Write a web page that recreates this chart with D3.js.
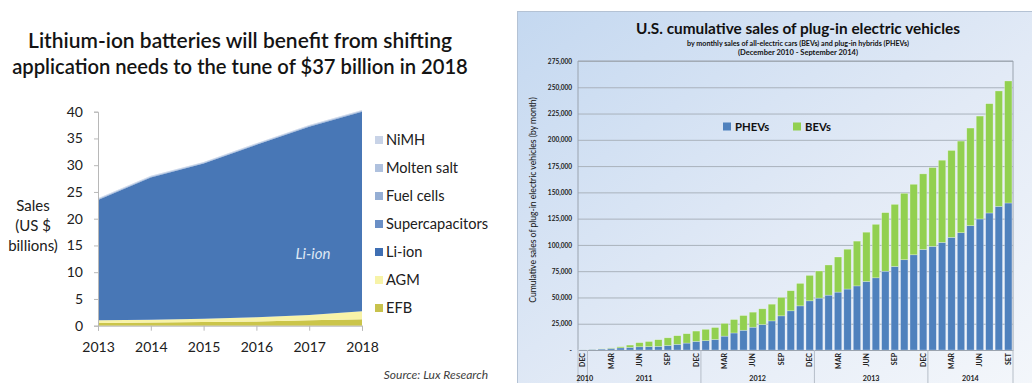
<!DOCTYPE html>
<html>
<head>
<meta charset="utf-8">
<script src="https://cdn.jsdelivr.net/npm/d3@7"></script>
<style>
  html, body { margin: 0; padding: 0; background: #ffffff; }
  svg { display: block; }
</style>
</head>
<body>
<svg id="chart" width="1032" height="383"></svg>
<script>
// ---------- Battery market (US $ billions) ----------
const batteryYears = [2013, 2014, 2015, 2016, 2017, 2018];
const efb        = [0.5, 0.6, 0.7, 0.8, 1.0, 1.2];
const agm        = [0.5, 0.5, 0.6, 0.8, 1.0, 1.5];
const liIon      = [22.5, 26.6, 29.0, 32.2, 35.2, 37.3];
const supercaps  = [0.08, 0.08, 0.08, 0.08, 0.08, 0.08];
const fuelCells  = [0.08, 0.08, 0.08, 0.08, 0.08, 0.08];
const moltenSalt = [0.08, 0.08, 0.08, 0.08, 0.08, 0.08];
const nimh       = [0.08, 0.08, 0.08, 0.08, 0.08, 0.08];
const batteryTicks = [0, 5, 10, 15, 20, 25, 30, 35, 40];
const batteryLegend = ["NiMH", "Molten salt", "Fuel cells", "Supercapacitors", "Li-ion", "AGM", "EFB"];

// ---------- US plug-in electric vehicles, cumulative ----------
const months = [
  "2010-12",
  "2011-01","2011-02","2011-03","2011-04","2011-05","2011-06","2011-07","2011-08","2011-09","2011-10","2011-11","2011-12",
  "2012-01","2012-02","2012-03","2012-04","2012-05","2012-06","2012-07","2012-08","2012-09","2012-10","2012-11","2012-12",
  "2013-01","2013-02","2013-03","2013-04","2013-05","2013-06","2013-07","2013-08","2013-09","2013-10","2013-11","2013-12",
  "2014-01","2014-02","2014-03","2014-04","2014-05","2014-06","2014-07","2014-08","2014-09"
];
const phevs = [
  326,
  650, 930, 1540, 2030, 2510, 3070, 3200, 3500, 4250, 5400, 6600, 8200,
  8900, 10000, 13200, 16200, 18800, 21700, 24200, 27700, 32500, 37300, 42000, 46800,
  49400, 52200, 55100, 58000, 61000, 65200, 68700, 75000, 79500, 85900, 90600, 95700,
  98600, 102400, 107200, 111600, 118300, 124700, 130400, 136700, 139900
];
const bevs = [
  19,
  100, 170, 460, 1070, 2190, 3930, 4900, 6300, 7350, 8200, 8900, 9800,
  10800, 11400, 12100, 12800, 14000, 14300, 15000, 15900, 17500, 19100, 21400, 24200,
  25800, 28700, 33400, 37900, 42600, 46900, 50900, 55700, 59100, 63200, 67100, 71900,
  75000, 78200, 82700, 87200, 92900, 97900, 104000, 109800, 116100
];
const monthTicks = ["2010-12","2011-03","2011-06","2011-09","2011-12","2012-03","2012-06","2012-09","2012-12",
                    "2013-03","2013-06","2013-09","2013-12","2014-03","2014-06","2014-09"];
const monthTickNames = ["DEC","MAR","JUN","SEP","DEC","MAR","JUN","SEP","DEC","MAR","JUN","SEP","DEC","MAR","JUN","SET"];
const yearLabels = ["2010", "2011", "2012", "2013", "2014"];
const evTicks = [0, 25000, 50000, 75000, 100000, 125000, 150000, 175000, 200000, 225000, 250000, 275000];

const svg = d3.select("#chart");

// shrink or grow a text's font size so it spans the given width
function fitWidth(sel, target) {
  const w = sel.node().getComputedTextLength();
  const fs = parseFloat(sel.attr("font-size"));
  sel.attr("font-size", (fs * target / w).toFixed(2));
}

// =================== Left panel ===================
const L = svg.append("g").attr("font-family", "Lato, 'Open Sans', sans-serif");

const t1 = L.append("text").attr("x", 240).attr("y", 48).attr("text-anchor", "middle")
  .attr("font-size", 20).attr("font-weight", 600).attr("fill", "#141414")
  .text("Lithium-ion batteries will benefit from shifting");
fitWidth(t1, 424);
const t2 = L.append("text").attr("x", 240).attr("y", 74).attr("text-anchor", "middle")
  .attr("font-size", 20).attr("font-weight", 600).attr("fill", "#141414")
  .text("application needs to the tune of $37 billion in 2018");
fitWidth(t2, 456);

const xL = d3.scaleLinear().domain([2013, 2018]).range([98, 362]);
const yL = d3.scaleLinear().domain([0, 40]).range([325.7, 111.7]);

const batteryRows = batteryYears.map((yr, i) => ({
  year: yr, EFB: efb[i], AGM: agm[i], "Li-ion": liIon[i], Supercapacitors: supercaps[i],
  "Fuel cells": fuelCells[i], "Molten salt": moltenSalt[i], NiMH: nimh[i]
}));
const batteryKeys = ["EFB", "AGM", "Li-ion", "Supercapacitors", "Fuel cells", "Molten salt", "NiMH"];
const batteryColor = {
  "EFB": "#cbc54a", "AGM": "#f8f3a8", "Li-ion": "#4877b6", "Supercapacitors": "#7597c9",
  "Fuel cells": "#98b1d6", "Molten salt": "#b2c4e0", "NiMH": "#c9d4e8"
};
const legendColor = {
  "EFB": "#c8c24c", "AGM": "#f7f3a8", "Li-ion": "#3f6fb3", "Supercapacitors": "#6a8fc6",
  "Fuel cells": "#95aed4", "Molten salt": "#afc1de", "NiMH": "#c8d3e7"
};
const batteryStack = d3.stack().keys(batteryKeys)(batteryRows);
const area = d3.area().x(d => xL(d.data.year)).y0(d => yL(d[0])).y1(d => yL(d[1]));
L.append("g").selectAll("path").data(batteryStack).join("path")
  .attr("d", area).attr("fill", d => batteryColor[d.key]);

// axes
const yAxisL = L.append("g").attr("transform", "translate(98,0)")
  .call(d3.axisLeft(yL).tickValues(batteryTicks).tickSize(4).tickPadding(11));
const xAxisL = L.append("g").attr("transform", "translate(0,325.7)")
  .call(d3.axisBottom(xL).tickValues(batteryYears).tickFormat(d3.format("d")).tickSize(5).tickPadding(11));
[yAxisL, xAxisL].forEach(a => {
  a.selectAll(".domain").attr("stroke", "#b8b8b8");
  a.selectAll(".tick line").attr("stroke", "#b8b8b8");
  a.selectAll("text").attr("font-size", 14).attr("fill", "#202020")
    .attr("font-family", "Lato, 'Open Sans', sans-serif");
});

// axis title
["Sales", "(US $", "billions)"].forEach((s, i) => {
  L.append("text").attr("x", 33).attr("y", 211 + i * 20).attr("text-anchor", "middle")
    .attr("font-size", 15).attr("fill", "#202020").text(s);
});

// in-area label
L.append("text").attr("x", 313).attr("y", 259).attr("text-anchor", "middle")
  .attr("font-size", 15).attr("font-style", "italic").attr("fill", "#dfe7f4").text("Li-ion");

// legend
const legL = L.append("g");
const legItems = legL.selectAll("g").data(batteryLegend).join("g")
  .attr("transform", (d, i) => `translate(375,${140 + i * 28})`);
legItems.append("rect").attr("x", 0).attr("y", -4).attr("width", 8).attr("height", 8)
  .attr("fill", d => legendColor[d]);
const legTexts = legItems.append("text").attr("x", 11).attr("y", 5)
  .attr("font-size", 15).attr("fill", "#202020").text(d => d);
{
  const sc = legTexts.filter(d => d === "Supercapacitors");
  fitWidth(sc, 102);
  legTexts.attr("font-size", sc.attr("font-size"));
}

L.append("text").attr("x", 488).attr("y", 379).attr("text-anchor", "end")
  .attr("font-size", 12).attr("font-style", "italic").attr("fill", "#404040")
  .text("Source: Lux Research");

// =================== Right panel ===================
const R = svg.append("g").attr("font-family", "Lato, 'Open Sans', sans-serif");
const defs = svg.append("defs");
const grad = defs.append("linearGradient").attr("id", "panelGrad")
  .attr("x1", "0%").attr("y1", "0%").attr("x2", "100%").attr("y2", "100%");
grad.append("stop").attr("offset", "0%").attr("stop-color", "#c4d8f0");
grad.append("stop").attr("offset", "55%").attr("stop-color", "#e2eaf6");
grad.append("stop").attr("offset", "100%").attr("stop-color", "#f4f7fb");

R.append("rect").attr("x", 517.5).attr("y", 11.5).attr("width", 520).attr("height", 380)
  .attr("fill", "url(#panelGrad)").attr("stroke", "#b4c2d4").attr("stroke-width", 1);

const rt1 = R.append("text").attr("x", 798).attr("y", 33.5).attr("text-anchor", "middle")
  .attr("font-size", 16).attr("font-weight", "bold").attr("fill", "#111")
  .text("U.S. cumulative sales of plug-in electric vehicles");
fitWidth(rt1, 324);
const rt2 = R.append("text").attr("x", 798).attr("y", 46).attr("text-anchor", "middle")
  .attr("font-size", 7.5).attr("font-weight", "bold").attr("fill", "#111")
  .text("by monthly sales of all-electric cars (BEVs) and plug-in hybrids (PHEVs)");
fitWidth(rt2, 222);
const rt3 = R.append("text").attr("x", 798).attr("y", 55).attr("text-anchor", "middle")
  .attr("font-size", 7.5).attr("font-weight", "bold").attr("fill", "#111")
  .text("(December 2010 - September 2014)");
fitWidth(rt3, 120);

const x0 = 578, x1 = 1013, yTop = 61, yBot = 350;
const xR = d3.scaleBand().domain(months).range([x0, x1]).paddingInner(0.22).paddingOuter(0.11);
const yR = d3.scaleLinear().domain([0, 275000]).range([yBot, yTop]);

// gridlines
R.append("g").attr("transform", `translate(${x0},0)`)
  .call(d3.axisLeft(yR).tickValues(evTicks.slice(1)).tickSize(-(x1 - x0)).tickFormat(""))
  .call(g => g.select(".domain").remove())
  .call(g => g.selectAll(".tick line").attr("stroke", "#aab2bc").attr("stroke-width", 1));

// plot frame
R.append("path").attr("d", `M${x0},${yBot}V${yTop}H${x1}V${yBot}`)
  .attr("fill", "none").attr("stroke", "#9aa3ae").attr("stroke-width", 1);

// y tick labels
R.append("g").attr("transform", `translate(${x0},0)`)
  .call(d3.axisLeft(yR).tickValues(evTicks).tickSize(0).tickPadding(6)
    .tickFormat(d => d === 0 ? "-" : d3.format(",")(d)))
  .call(g => g.select(".domain").remove())
  .call(g => g.selectAll("text").attr("font-size", 6.5).attr("font-weight", "bold")
    .attr("fill", "#222").attr("font-family", "Lato, 'Open Sans', sans-serif"));

// y axis title
const yTitle = R.append("text").attr("transform", "translate(536,200) rotate(-90)")
  .attr("text-anchor", "middle").attr("font-size", 8.5).attr("fill", "#111")
  .text("Cumulative sales of plug-in electric vehicles (by month)");
fitWidth(yTitle, 206);

// stacked bars
const evRows = months.map((m, i) => ({ month: m, phev: phevs[i], bev: bevs[i] }));
const evStack = d3.stack().keys(["phev", "bev"])(evRows);
const evColor = { phev: "#4f81bd", bev: "#92d050" };
R.append("g").selectAll("g").data(evStack).join("g")
  .attr("fill", d => evColor[d.key])
  .selectAll("rect").data(d => d).join("rect")
  .attr("x", d => xR(d.data.month))
  .attr("width", xR.bandwidth())
  .attr("y", d => yR(d[1]))
  .attr("height", d => yR(d[0]) - yR(d[1]))
  .attr("stroke", "rgba(255,255,255,0.45)").attr("stroke-width", 0.6);

// month axis
const monthName = new Map(monthTicks.map((m, i) => [m, monthTickNames[i]]));
R.append("g").attr("transform", `translate(0,${yBot})`)
  .call(d3.axisBottom(xR).tickValues(monthTicks).tickSize(0).tickFormat(d => monthName.get(d)))
  .call(g => g.select(".domain").attr("stroke", "#9aa3ae"))
  .call(g => g.selectAll("text")
    .attr("transform", "rotate(-90)")
    .attr("text-anchor", "end")
    .attr("x", -3).attr("y", 0).attr("dy", "0.35em")
    .attr("font-size", 7).attr("font-weight", "bold").attr("fill", "#222")
    .attr("font-family", "Lato, 'Open Sans', sans-serif"));

// year groups: separators and labels
const step = xR.step();
const yearGroups = yearLabels.map(y => {
  const idx = months.map((m, i) => m.startsWith(y) ? i : -1).filter(i => i >= 0);
  return { year: y, first: idx[0], last: idx[idx.length - 1] };
});
const sepX = [x0].concat(yearGroups.map(g => x0 + (g.last + 1) * step));
R.append("g").selectAll("line").data(sepX).join("line")
  .attr("x1", d => d).attr("x2", d => d).attr("y1", yBot).attr("y2", 383)
  .attr("stroke", "#b6bec8").attr("stroke-width", 1);
R.append("g").selectAll("text").data(yearGroups).join("text")
  .attr("x", d => (x0 + d.first * step + x0 + (d.last + 1) * step) / 2 + (d.first === d.last ? 2 : 0))
  .attr("y", 380.5).attr("text-anchor", "middle")
  .attr("font-size", 7.2).attr("font-weight", "bold").attr("fill", "#222")
  .text(d => d.year);

// legend
const legR = R.append("g");
[["phev", "PHEVs", 723], ["bev", "BEVs", 793]].forEach(([k, label, lx]) => {
  legR.append("rect").attr("x", lx).attr("y", 122.5).attr("width", 8).attr("height", 8)
    .attr("fill", evColor[k]);
  const t = legR.append("text").attr("x", lx + 12).attr("y", 131).attr("font-size", 11.5)
    .attr("font-weight", "bold").attr("fill", "#111").text(label);
  if (k === "bev") fitWidth(t, 26);
});
legR.selectAll("text").attr("font-size", legR.selectAll("text").filter((d, i) => i === 1).attr("font-size"));
</script>
</body>
</html>
